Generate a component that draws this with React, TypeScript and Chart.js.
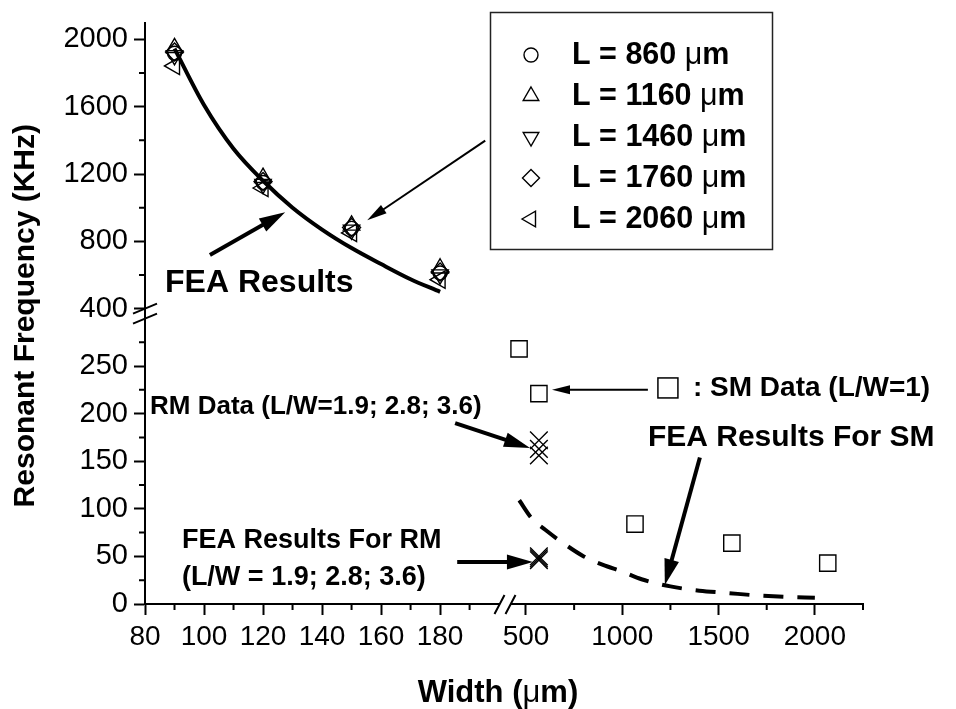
import React, { useEffect, useRef } from 'react';
import { Chart, registerables } from 'chart.js';
import { drawPoint } from 'chart.js/helpers';

Chart.register(...registerables);

const FONT = '"Liberation Sans", Arial, Helvetica, sans-serif';

// ---------- data ----------
const upperWidths = [90, 120, 150, 180];
const freqL860 = [1918, 1150, 877, 612];
const freqL1160 = [1950, 1178, 895, 640];
const freqL1460 = [1905, 1140, 868, 602];
const freqL1760 = [1925, 1155, 882, 618];
const freqL2060 = [1842, 1117, 850, 572];
const legendLabels = ['L = 860 μm', 'L = 1160 μm', 'L = 1460 μm', 'L = 1760 μm', 'L = 2060 μm'];

const feaWidths = [90, 100, 110, 120, 130, 140, 150, 160, 170, 180];
const feaFreq = [1945, 1610, 1350, 1160, 1000, 870, 760, 665, 575, 500];

const smWidths = [464, 567, 1066, 1569, 2067];
const smFreq = [268, 221, 84, 64, 43];

const rmWidths = [567, 567, 567];
const rmFreq = [172, 163, 156];
const rmFeaFreq = [50, 48, 46];

const smFeaWidths = [465, 530, 600, 700, 800, 900, 1000, 1100, 1250, 1400, 1550, 1700, 1850, 2000];
const smFeaFreq = [109, 90, 78, 63, 50, 41, 34, 26, 18.5, 14, 11.5, 9, 7.5, 6.5];

const xLeftMajor = [80, 100, 120, 140, 160, 180];
const xLeftMinor = [90, 110, 130, 150, 170, 190];
const xRightMajor = [500, 1000, 1500, 2000];
const xRightMinor = [750, 1250, 1750, 2250];
const yUpperMajor = [400, 800, 1200, 1600, 2000];
const yUpperMinor = [600, 1000, 1400, 1800];
const yLowerMajor = [0, 50, 100, 150, 200, 250];
const yLowerMinor = [25, 75, 125, 175, 225, 275];

const xTitle = 'Width (μm)';
const yTitle = 'Resonant Frequency (KHz)';

// ---------- helpers ----------
const pts = (xs: number[], ys: number[]) => xs.map((x, i) => ({ x, y: ys[i] }));

function markerSet(label: string, xs: number[], ys: number[], style: string, rot: number, r: number, xa: string, ya: string) {
  return {
    label,
    data: pts(xs, ys),
    xAxisID: xa,
    yAxisID: ya,
    showLine: false,
    pointStyle: style,
    pointRotation: rot,
    pointRadius: r,
    pointBorderWidth: 1.4,
    pointBorderColor: '#000',
    pointBackgroundColor: 'rgba(0,0,0,0)',
    borderColor: '#000',
    backgroundColor: 'rgba(0,0,0,0)',
  };
}

function axis(position: string, stack: string, weight: number, stackWeight: number, min: number, max: number,
  major: number[], minor: number[], size: number, fontSize: number, pad: number) {
  return {
    type: 'linear',
    position,
    stack,
    weight,
    stackWeight,
    min,
    max,
    grid: {
      display: true,
      drawOnChartArea: false,
      drawTicks: true,
      tickLength: 11,
      tickWidth: 2,
      tickColor: (c: any) => (c.tick && major.includes(c.tick.value) ? '#000' : 'rgba(0,0,0,0)'),
    },
    border: { display: true, color: '#000', width: 2 },
    ticks: {
      autoSkip: false,
      maxRotation: 0,
      minRotation: 0,
      padding: pad,
      color: '#000',
      font: { family: FONT, size: fontSize },
      callback: (v: number) => (major.includes(v) ? String(v) : ''),
    },
    afterBuildTicks: (s: any) => {
      s.ticks = [...major, ...minor].sort((a, b) => a - b).map((v) => ({ value: v }));
    },
    afterFit: (s: any) => {
      if (position === 'left') s.width = size;
      else s.height = size;
    },
  };
}

function arrow(ctx: CanvasRenderingContext2D, x1: number, y1: number, x2: number, y2: number, lw: number, hl: number, hw: number) {
  const a = Math.atan2(y2 - y1, x2 - x1);
  const bx = x2 - hl * Math.cos(a);
  const by = y2 - hl * Math.sin(a);
  ctx.lineWidth = lw;
  ctx.lineCap = 'butt';
  ctx.beginPath();
  ctx.moveTo(x1, y1);
  ctx.lineTo(bx + Math.cos(a) * 2, by + Math.sin(a) * 2);
  ctx.stroke();
  ctx.beginPath();
  ctx.moveTo(x2, y2);
  ctx.lineTo(bx + (hw / 2) * Math.sin(a), by - (hw / 2) * Math.cos(a));
  ctx.lineTo(bx - (hw / 2) * Math.sin(a), by + (hw / 2) * Math.cos(a));
  ctx.closePath();
  ctx.fill();
}

// draws text where "μ" is drawn in normal weight (symbol font look)
function richText(ctx: CanvasRenderingContext2D, text: string, x: number, y: number, size: number, align: 'left' | 'center') {
  const parts = text.split('μ');
  const segs: { t: string; bold: boolean }[] = [];
  parts.forEach((p, i) => {
    if (i > 0) segs.push({ t: 'μ', bold: false });
    if (p) segs.push({ t: p, bold: true });
  });
  let total = 0;
  for (const s of segs) {
    ctx.font = `${s.bold ? 'bold ' : ''}${size}px ${FONT}`;
    total += ctx.measureText(s.t).width;
  }
  let cx = align === 'center' ? x - total / 2 : x;
  ctx.textAlign = 'left';
  for (const s of segs) {
    ctx.font = `${s.bold ? 'bold ' : ''}${size}px ${FONT}`;
    ctx.fillText(s.t, cx, y);
    cx += ctx.measureText(s.t).width;
  }
}

const legendStyles = [
  { pointStyle: 'circle', rotation: 0, radius: 7 },
  { pointStyle: 'triangle', rotation: 0, radius: 9 },
  { pointStyle: 'triangle', rotation: 180, radius: 9 },
  { pointStyle: 'rectRot', rotation: 0, radius: 8.5 },
  { pointStyle: 'triangle', rotation: 270, radius: 9 },
];

const overlay = {
  id: 'overlay',
  afterDraw(chart: any) {
    const { ctx, chartArea: ca, scales: s } = chart;
    const X = (id: string, v: number) => s[id].getPixelForValue(v);
    const Y = (id: string, v: number) => s[id].getPixelForValue(v);
    ctx.save();
    ctx.strokeStyle = '#000';
    ctx.fillStyle = '#000';

    // minor ticks
    ctx.lineWidth = 2;
    ctx.beginPath();
    xLeftMinor.forEach((v) => { const x = X('xL', v); ctx.moveTo(x, ca.bottom); ctx.lineTo(x, ca.bottom + 6); });
    xRightMinor.forEach((v) => { const x = X('xR', v); ctx.moveTo(x, ca.bottom); ctx.lineTo(x, ca.bottom + 6); });
    yUpperMinor.forEach((v) => { const y = Y('yU', v); ctx.moveTo(ca.left, y); ctx.lineTo(ca.left - 6, y); });
    yLowerMinor.forEach((v) => { const y = Y('yLo', v); ctx.moveTo(ca.left, y); ctx.lineTo(ca.left - 6, y); });
    ctx.stroke();

    // axis breaks
    const yb = s.yU.bottom;
    ctx.lineWidth = 2;
    ctx.beginPath();
    [-5, 5].forEach((d) => { ctx.moveTo(ca.left - 12, yb + d + 5); ctx.lineTo(ca.left + 12, yb + d - 5); });
    ctx.stroke();
    const xb = s.xL.right;
    ctx.fillStyle = '#fff';
    ctx.fillRect(xb - 6, ca.bottom - 2, 12, 4);
    ctx.fillStyle = '#000';
    ctx.beginPath();
    [-5.5, 5.5].forEach((d) => { ctx.moveTo(xb + d - 5, ca.bottom + 10); ctx.lineTo(xb + d + 5, ca.bottom - 9); });
    ctx.stroke();

    // axis titles
    ctx.save();
    ctx.translate(26, (ca.top + ca.bottom) / 2 + 2);
    ctx.rotate(-Math.PI / 2);
    ctx.font = `bold 30px ${FONT}`;
    ctx.textAlign = 'center';
    ctx.textBaseline = 'middle';
    ctx.fillText(yTitle, 0, 0);
    ctx.restore();
    ctx.textBaseline = 'alphabetic';
    richText(ctx, xTitle, 498, 702, 31, 'center');

    // legend
    ctx.lineWidth = 1.5;
    ctx.strokeStyle = '#222';
    ctx.strokeRect(490.5, 12.5, 282, 237);
    ctx.strokeStyle = '#000';
    legendLabels.forEach((lab, i) => {
      const cy = 55 + i * 41;
      ctx.fillStyle = 'rgba(0,0,0,0)';
      ctx.lineWidth = 1.4;
      drawPoint(ctx, { ...legendStyles[i], borderWidth: 1.4 } as any, 531, cy);
      ctx.fillStyle = '#000';
      ctx.textBaseline = 'middle';
      richText(ctx, lab, 572, cy + 1, 30.5, 'left');
    });
    ctx.textBaseline = 'alphabetic';
    ctx.fillStyle = '#000';
    ctx.strokeStyle = '#000';

    // annotations: upper panel
    ctx.font = `bold 32px ${FONT}`;
    ctx.textAlign = 'left';
    ctx.fillText('FEA Results', X('xL', 86.8), Y('yU', 500));
    arrow(ctx, X('xL', 102), Y('yU', 719), X('xL', 127.5), Y('yU', 973), 4, 26, 15);
    arrow(ctx, X('xL', 195.3), Y('yU', 1398), X('xL', 155.3), Y('yU', 925), 2, 20, 10);

    // annotations: lower panel
    ctx.font = `bold 26px ${FONT}`;
    ctx.fillText('RM Data (L/W=1.9; 2.8; 3.6)', X('xL', 81.7), Y('yLo', 200));
    arrow(ctx, X('xL', 185.1), Y('yLo', 190), X('xR', 521), Y('yLo', 164), 4, 26, 15);

    ctx.font = `bold 27px ${FONT}`;
    ctx.fillText('FEA Results For RM', X('xL', 92.5), Y('yLo', 58.6));
    ctx.fillText('(L/W = 1.9; 2.8; 3.6)', X('xL', 92.5), Y('yLo', 20));
    arrow(ctx, X('xL', 185.8), Y('yLo', 44), X('xR', 536), Y('yLo', 44), 4, 26, 15);

    // SM data key
    const sqx = X('xR', 1237), sqy = Y('yLo', 227);
    ctx.lineWidth = 1.5;
    ctx.strokeRect(sqx - 10, sqy - 10, 20, 20);
    ctx.font = `bold 28px ${FONT}`;
    ctx.fillText(': SM Data (L/W=1)', X('xR', 1367), Y('yLo', 218.6));
    arrow(ctx, X('xR', 1133), Y('yLo', 225), X('xR', 635), Y('yLo', 225), 2, 18, 9);

    ctx.font = `bold 30px ${FONT}`;
    ctx.fillText('FEA Results For SM', X('xR', 1133), Y('yLo', 166));
    arrow(ctx, X('xR', 1403), Y('yLo', 154), X('xR', 1221), Y('yLo', 20), 4, 26, 15);

    ctx.restore();
  },
};

export default function App() {
  const ref = useRef<HTMLCanvasElement | null>(null);
  useEffect(() => {
    if (!ref.current) return;
    const datasets: any[] = [
      markerSet(legendLabels[0], upperWidths, freqL860, 'circle', 0, 7, 'xL', 'yU'),
      markerSet(legendLabels[1], upperWidths, freqL1160, 'triangle', 0, 9.5, 'xL', 'yU'),
      markerSet(legendLabels[2], upperWidths, freqL1460, 'triangle', 180, 9.5, 'xL', 'yU'),
      markerSet(legendLabels[3], upperWidths, freqL1760, 'rectRot', 0, 9, 'xL', 'yU'),
      markerSet(legendLabels[4], upperWidths, freqL2060, 'triangle', 270, 10, 'xL', 'yU'),
      {
        label: 'FEA Results',
        data: pts(feaWidths, feaFreq),
        xAxisID: 'xL',
        yAxisID: 'yU',
        showLine: true,
        borderColor: '#000',
        borderWidth: 4,
        pointRadius: 0,
        cubicInterpolationMode: 'monotone',
      },
      markerSet('SM Data (L/W=1)', smWidths, smFreq, 'rect', 0, 11.5, 'xR', 'yLo'),
      markerSet('RM Data', rmWidths, rmFreq, 'crossRot', 0, 12.5, 'xR', 'yLo'),
      markerSet('FEA Results For RM', rmWidths, rmFeaFreq, 'crossRot', 0, 12.5, 'xR', 'yLo'),
      {
        label: 'FEA Results For SM',
        data: pts(smFeaWidths, smFeaFreq),
        xAxisID: 'xR',
        yAxisID: 'yLo',
        showLine: true,
        borderColor: '#000',
        borderWidth: 4,
        borderDash: [20, 14],
        pointRadius: 0,
        cubicInterpolationMode: 'monotone',
      },
    ];
    const chart = new Chart(ref.current, {
      type: 'scatter',
      data: { datasets },
      options: {
        animation: false,
        responsive: false,
        devicePixelRatio: 1,
        layout: { padding: { top: 20, right: 93, bottom: 0, left: 0 }, autoPadding: false },
        plugins: { legend: { display: false }, tooltip: { enabled: false } },
        scales: {
          xL: axis('bottom', 'x', 0, 360, 80, 202, xLeftMajor, xLeftMinor, 105, 28, 5),
          xR: axis('bottom', 'x', 1, 358, 391, 2250, xRightMajor, xRightMinor, 105, 28, 5),
          yLo: axis('left', 'y', 0, 292, 0, 305, yLowerMajor, yLowerMinor, 145, 29, 6),
          yU: axis('left', 'y', 1, 292, 370, 2095, yUpperMajor, yUpperMinor, 145, 29, 6),
        } as any,
      },
      plugins: [overlay],
    } as any);
    return () => chart.destroy();
  }, []);
  return (
    <div style={{ position: 'fixed', left: 0, top: 0, width: 956, height: 709, background: '#fff' }}>
      <canvas ref={ref} width={956} height={709} style={{ display: 'block', width: 956, height: 709 }} />
    </div>
  );
}
